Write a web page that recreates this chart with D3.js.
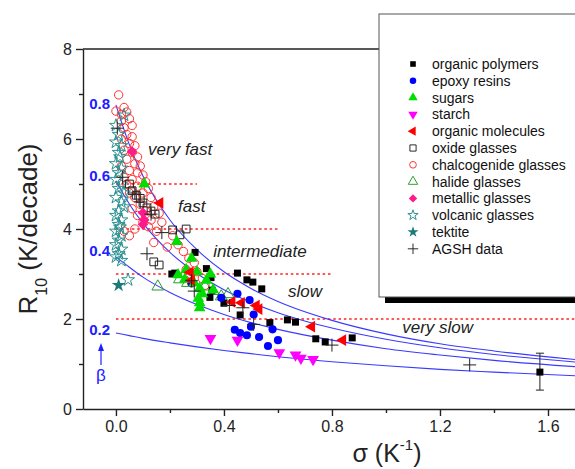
<!DOCTYPE html>
<html>
<head>
<meta charset="utf-8">
<script src="https://cdn.jsdelivr.net/npm/d3@7"></script>
<style>
  body { margin: 0; background: #fff; }
  svg { display: block; font-family: Arial, "Liberation Sans", sans-serif; }
</style>
</head>
<body>
<svg id="chart" width="575" height="469"></svg>
<script>
// values: [sigma (1/K), R10 (K/decade)]
const organicPolymers = [[0.207,3.00],[0.218,3.02],[0.293,3.48],[0.335,3.12],[0.352,2.92],[0.356,2.64],[0.348,2.48],[0.40,2.35],
  [0.45,3.02],[0.485,2.87],[0.507,2.82],[0.54,2.67],[0.46,2.09],[0.57,1.92],[0.635,1.98],[0.665,1.93],
  [0.74,1.56],[0.775,1.49],[0.875,1.58],[1.57,0.82]];
const polymerErrorBar = [1.57, 0.42, 1.24];
const epoxyResins = [[0.28,2.80],[0.39,2.47],[0.45,2.56],[0.495,2.42],[0.51,2.10],[0.50,1.83],[0.53,1.60],[0.44,1.76],
  [0.46,1.69],[0.485,1.64],[0.58,1.77],[0.60,1.53],[0.563,1.40]];
const sugars = [[0.105,5.00],[0.225,3.72],[0.28,3.35],[0.26,3.10],[0.23,2.98],[0.255,2.88],[0.29,2.80],[0.31,2.68],
  [0.32,2.56],[0.305,2.46],[0.31,2.36],[0.31,2.25],[0.36,2.65],[0.335,2.86],[0.35,3.00],[0.30,3.05]];
const starch = [[0.35,1.57],[0.45,1.53],[0.605,1.25],[0.665,1.20],[0.685,1.13],[0.73,1.10]];
const organicMolecules = [[0.163,4.58],[0.275,3.04],[0.28,2.86],[0.43,2.38],[0.465,2.36],[0.53,2.22],[0.52,2.30],
  [0.725,1.83],[0.84,1.53]];
const oxideGlasses = [[0.05,5.00],[0.06,4.85],[0.075,4.75],[0.09,4.68],[0.10,4.58],[0.115,4.47],[0.13,4.40],[0.145,4.33],
  [0.21,3.98],[0.237,3.87],[0.26,4.00],[0.14,3.27],[0.16,3.20]];
const chalcogenideGlasses = [[0.01,6.98],[0.00,6.62],[0.02,6.55],[0.03,6.70],[0.04,6.60],[0.02,6.40],[0.05,6.45],[0.03,6.25],
  [0.06,6.30],[0.04,6.10],[0.06,6.05],[0.02,6.00],[0.05,5.90],[0.07,5.85],[0.03,5.75],[0.06,5.70],[0.08,5.60],
  [0.04,5.55],[0.07,5.45],[0.02,5.40],[0.09,5.40],[0.05,5.30],[0.08,5.25],[0.03,5.15],[0.10,5.20],[0.06,5.10],
  [0.11,5.05],[0.04,5.00],[0.08,4.95],[0.12,4.90],[0.05,4.80],[0.10,4.80],[0.07,4.70],[0.13,4.70],[0.09,4.55],
  [0.14,4.50],[0.06,4.45],[0.11,4.40],[0.16,4.35],[0.08,4.30],[0.13,4.20],[0.10,4.15],[0.17,4.15],[0.12,4.05],
  [0.07,4.00],[0.03,3.95],[0.05,3.85],[0.15,3.95],[0.21,3.85],[0.19,3.60],[0.14,3.70],[0.23,3.65],[0.25,3.50],
  [0.27,3.35],[0.29,3.25],[0.26,3.10],[0.30,3.05],[0.32,2.90],[0.33,2.75],[0.28,2.80]];
const halideGlasses = [[0.155,2.72],[0.235,2.88],[0.265,2.80],[0.33,2.72],[0.36,2.62],[0.39,2.50],[0.415,2.55]];
const metallicGlasses = [[0.06,5.72],[0.10,4.36],[0.105,4.20],[0.10,4.10]];
const volcanicGlasses = [[0.03,6.53],[0.00,6.30],[0.01,6.10],[0.00,5.93],[0.02,5.85],[0.01,5.70],[0.015,5.60],[0.00,5.45],
  [0.02,5.35],[0.01,5.25],[0.00,5.10],[0.02,5.00],[0.01,4.90],[0.03,4.80],[0.00,4.70],[0.02,4.60],[0.03,4.49],
  [0.01,4.40],[0.00,4.30],[0.02,4.20],[0.01,4.10],[0.015,4.04],[0.00,3.95],[0.02,3.85],[0.01,3.75],[0.00,3.65],
  [0.02,3.55],[0.01,3.45],[0.00,3.38],[0.02,3.30],[0.045,2.87]];
const tektite = [[0.01,2.75]];
const agshData = [[0.005,6.24],[0.025,5.15],[0.07,4.80],[0.09,4.60],[0.13,4.33],[0.17,3.92],[0.115,3.45],[0.28,2.85],
  [0.29,2.62],[0.42,2.30],[0.47,2.25],[0.51,1.88],[0.80,1.42],[1.31,0.98]];

// beta curves
const curveSigma = [0, 0.05, 0.1, 0.2, 0.3, 0.4, 0.5, 0.6, 0.8, 1.0, 1.2, 1.4, 1.75];
const curveBeta08 = [6.76, 5.87, 5.18, 4.20, 3.54, 3.05, 2.68, 2.39, 1.97, 1.67, 1.45, 1.29, 1.07];
const curveBeta06 = [5.07, 4.55, 4.13, 3.48, 3.01, 2.65, 2.37, 2.14, 1.80, 1.55, 1.36, 1.21, 1.02];
const curveBeta04 = [3.38, 3.15, 2.93, 2.59, 2.32, 2.10, 1.92, 1.77, 1.53, 1.34, 1.20, 1.08, 0.92];
const curveBeta02 = [1.69, 1.63, 1.57, 1.47, 1.38, 1.30, 1.23, 1.16, 1.05, 0.96, 0.88, 0.82, 0.725];
const betaLabels = ["0.8", "0.6", "0.4", "0.2"];

// red dotted class boundaries
const levelR = [5, 4, 3, 2];
const levelEnd = [0.30, 0.60, 0.80, 1.82];

const xTicks = [0, 0.4, 0.8, 1.2, 1.6];
const xMinor = [0.2, 0.6, 1.0, 1.4];
const yTicks = [0, 2, 4, 6, 8];
const yMinor = [1, 3, 5, 7];

const svg = d3.select("#chart");
const x = d3.scaleLinear().domain([-0.122, 1.82]).range([83, 607.4]);
const y = d3.scaleLinear().domain([0, 8]).range([409, 49]);

// axes
svg.append("g").attr("transform", "translate(0,409)")
  .call(d3.axisBottom(x).tickValues(xTicks).tickFormat(d3.format(".1f")).tickSize(7).tickSizeOuter(0).tickPadding(5));
svg.append("g").attr("transform", "translate(0,409)")
  .call(d3.axisBottom(x).tickValues(xMinor).tickFormat("").tickSize(4).tickSizeOuter(0))
  .select(".domain").remove();
svg.append("g").attr("transform", "translate(83,0)")
  .call(d3.axisLeft(y).tickValues(yTicks).tickSize(7).tickSizeOuter(0).tickPadding(4));
svg.append("g").attr("transform", "translate(83,0)")
  .call(d3.axisLeft(y).tickValues(yMinor).tickFormat("").tickSize(4).tickSizeOuter(0))
  .select(".domain").remove();
svg.selectAll(".tick line, .domain").attr("stroke", "#222").attr("stroke-width", 1.4);
svg.selectAll(".tick text").attr("font-size", 16).attr("fill", "#222")
  .attr("font-family", "Arial, 'Liberation Sans', sans-serif");

// frame top / right
svg.append("path")
  .attr("d", `M83,49H${x(1.82)}V409`)
  .attr("fill", "none").attr("stroke", "#222").attr("stroke-width", 1.4);

// axis titles
svg.append("text")
  .attr("transform", "translate(37,229) rotate(-90)")
  .attr("text-anchor", "middle").attr("font-size", 26).attr("fill", "#222")
  .html('R<tspan font-size="16" dy="10">10</tspan><tspan dy="-10"> (K/decade)</tspan>');
svg.append("text")
  .attr("x", 387).attr("y", 462)
  .attr("text-anchor", "middle").attr("font-size", 25).attr("fill", "#222")
  .html('σ (K<tspan font-size="15" dy="-12">-1</tspan><tspan dy="12">)</tspan>');

// red dotted level lines
levelR.forEach((r, i) => {
  svg.append("line")
    .attr("x1", x(0)).attr("x2", x(levelEnd[i]))
    .attr("y1", y(r)).attr("y2", y(r))
    .attr("stroke", "#ff2020").attr("stroke-width", 1.5)
    .attr("stroke-dasharray", "2.5,2.8");
});

// class labels
const classLabels = [["very fast", 0.119, 5.64], ["fast", 0.23, 4.38], ["intermediate", 0.36, 3.38],
  ["slow", 0.637, 2.49], ["very slow", 1.06, 1.69]];
classLabels.forEach(c => {
  svg.append("text").attr("x", x(c[1])).attr("y", y(c[2]))
    .attr("font-size", 17).attr("font-style", "italic").attr("fill", "#222")
    .text(c[0]);
});

// beta curves
const clip = svg.append("clipPath").attr("id", "plotclip");
clip.append("rect").attr("x", 83).attr("y", 49).attr("width", 530).attr("height", 360);
const line = d3.line().x((d, i) => x(curveSigma[i])).y(d => y(d)).curve(d3.curveMonotoneX);
[curveBeta08, curveBeta06, curveBeta04, curveBeta02].forEach(c => {
  svg.append("path").attr("d", line(c)).attr("clip-path", "url(#plotclip)")
    .attr("fill", "none").attr("stroke", "#3a3aff").attr("stroke-width", 1.1);
});

// beta labels + arrow
const betaLabelY = [109, 181, 256, 335];
betaLabels.forEach((b, i) => {
  svg.append("text").attr("x", 110).attr("y", betaLabelY[i]).attr("text-anchor", "end")
    .attr("font-size", 15).attr("font-weight", "bold").attr("fill", "#2020ff").text(b);
});
svg.append("line").attr("x1", 101).attr("x2", 101).attr("y1", 365).attr("y2", 348)
  .attr("stroke", "#2020ff").attr("stroke-width", 1.2);
svg.append("path").attr("d", "M101,343L98,351L104,351Z").attr("fill", "#2020ff");
svg.append("text").attr("x", 101).attr("y", 381).attr("text-anchor", "middle")
  .attr("font-size", 17).attr("fill", "#2020ff").text("β");

// marker definitions
const sym = (type, size) => d3.symbol().type(type).size(size)();
const markers = {
  polymer:   { d: sym(d3.symbolSquare, 49), fill: "#000", stroke: "none" },
  epoxy:     { d: sym(d3.symbolCircle, 52), fill: "#0000ff", stroke: "none" },
  sugar:     { d: sym(d3.symbolTriangle, 60), fill: "#00dd00", stroke: "none" },
  starch:    { d: sym(d3.symbolTriangle, 60), fill: "#ff00ff", stroke: "none", rot: 180 },
  molecule:  { d: sym(d3.symbolTriangle, 58), fill: "#ff0000", stroke: "none", rot: -90 },
  oxide:     { d: sym(d3.symbolSquare, 60), fill: "none", stroke: "#222" },
  chalco:    { d: sym(d3.symbolCircle, 55), fill: "none", stroke: "#ff3030" },
  halide:    { d: sym(d3.symbolTriangle, 60), fill: "none", stroke: "#2a9a2a" },
  metallic:  { d: sym(d3.symbolSquare, 55), fill: "#ff1a8c", stroke: "none", rot: 45 },
  volcanic:  { d: sym(d3.symbolStar, 52), fill: "none", stroke: "#2a9090" },
  tektite:   { d: sym(d3.symbolStar, 60), fill: "#1a7a7a", stroke: "none" },
  agsh:      { d: "M-6.5,0H6.5M0,-6.5V6.5", fill: "none", stroke: "#222" }
};

function drawSeries(data, key) {
  const m = markers[key];
  svg.append("g").selectAll("path").data(data).join("path")
    .attr("d", m.d)
    .attr("transform", d => `translate(${x(d[0])},${y(d[1])})` + (m.rot ? ` rotate(${m.rot})` : ""))
    .attr("fill", m.fill).attr("stroke", m.stroke).attr("stroke-width", 1);
}

// error bar on the lone polymer at large sigma
const eb = svg.append("g").attr("stroke", "#222").attr("stroke-width", 1);
eb.append("line").attr("x1", x(polymerErrorBar[0])).attr("x2", x(polymerErrorBar[0]))
  .attr("y1", y(polymerErrorBar[1])).attr("y2", y(polymerErrorBar[2]));
[polymerErrorBar[1], polymerErrorBar[2]].forEach(v => {
  eb.append("line").attr("x1", x(polymerErrorBar[0]) - 4).attr("x2", x(polymerErrorBar[0]) + 4)
    .attr("y1", y(v)).attr("y2", y(v));
});

drawSeries(chalcogenideGlasses, "chalco");
drawSeries(volcanicGlasses, "volcanic");
drawSeries(tektite, "tektite");
drawSeries(oxideGlasses, "oxide");
drawSeries(halideGlasses, "halide");
drawSeries(organicPolymers, "polymer");
drawSeries(epoxyResins, "epoxy");
drawSeries(sugars, "sugar");
drawSeries(starch, "starch");
drawSeries(organicMolecules, "molecule");
drawSeries(metallicGlasses, "metallic");
drawSeries(agshData, "agsh");

// legend
const legendNames = ["organic polymers", "epoxy resins", "sugars", "starch", "organic molecules", "oxide glasses",
  "chalcogenide glasses", "halide glasses", "metallic glasses", "volcanic glasses", "tektite", "AGSH data"];
const legendKeys = ["polymer", "epoxy", "sugar", "starch", "molecule", "oxide", "chalco", "halide", "metallic",
  "volcanic", "tektite", "agsh"];
const lg = svg.append("g");
lg.append("rect").attr("x", 385).attr("y", 20).attr("width", 260).attr("height", 283).attr("fill", "#000");
lg.append("rect").attr("x", 379).attr("y", 14).attr("width", 260).attr("height", 283)
  .attr("fill", "#fff").attr("stroke", "#555").attr("stroke-width", 1);
legendNames.forEach((n, i) => {
  const cy = 64 + i * 16.8;
  const m = markers[legendKeys[i]];
  lg.append("path").attr("d", m.d)
    .attr("transform", `translate(413,${cy}) scale(0.8)` + (m.rot ? ` rotate(${m.rot})` : ""))
    .attr("fill", m.fill).attr("stroke", m.stroke).attr("stroke-width", 1.2);
  lg.append("text").attr("x", 432).attr("y", cy + 5).attr("font-size", 14).attr("fill", "#111").text(n);
});
</script>
</body>
</html>
